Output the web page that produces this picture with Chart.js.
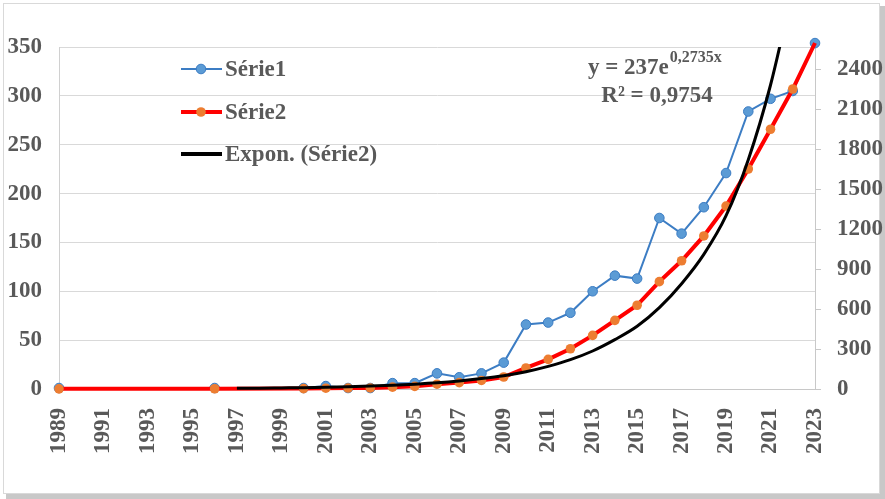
<!DOCTYPE html>
<html><head><meta charset="utf-8">
<script src="https://cdn.jsdelivr.net/npm/chart.js@4/dist/chart.umd.min.js"></script>
<style>html,body{margin:0;padding:0;background:#fff;}canvas{display:block;}</style>
</head><body>
<canvas id="c" width="885" height="499"></canvas>
<script>
// ---- data ----
const years = ['1989','1990','1991','1992','1993','1994','1995','1996','1997','1998','1999',
  '2000','2001','2002','2003','2004','2005','2006','2007','2008','2009','2010','2011',
  '2012','2013','2014','2015','2016','2017','2018','2019','2020','2021','2022','2023'];
const xTickLabels = ['1989','1991','1993','1995','1997','1999','2001','2003','2005','2007',
  '2009','2011','2013','2015','2017','2019','2021','2023'];
const serie1 = [1, null, null, null, null, null, null, 1, null, null, null,
  1, 3, 1, 1, 6, 6, 16, 12, 16, 27, 66, 68, 78, 100, 116, 113, 175, 159, 186, 221, 284, 297, 305, 354];
const serie2 = [1, null, null, null, null, null, null, 2, null, null, null,
  3, 6, 7, 8, 14, 20, 36, 48, 64, 90, 158, 222, 302, 402, 515, 628, 805, 962, 1148, 1372, 1650, 1948, 2250, 2595];
const trend = [null, null, null, null, null, null, null, null, 5, 6, 8,
  10, 13, 17, 22, 28, 36, 46, 60, 78, 100, 130, 170, 220, 285, 370, 470, 610, 790, 1010, 1300, 1720, 2280, 3000, null];
const leftTicks = [0, 50, 100, 150, 200, 250, 300, 350];
const rightTicks = [0, 300, 600, 900, 1200, 1500, 1800, 2100, 2400];
const legendLabels = ['Série1', 'Série2', 'Expon. (Série2)'];
const eqMain = 'y = 237e';
const eqExp = '0,2735x';
const eqR2 = 'R² = 0,9754';

// ---- styling ----
const FAM = '"Liberation Serif", "Times New Roman", serif';
const TXT = '#595959';
const W = 885, H = 499;
const PLOT = {left: 59, right: 815, top: 47, bottom: 389};

const frame = {
  id: 'frame',
  beforeDraw(chart) {
    const ctx = chart.ctx;
    ctx.save();
    ctx.fillStyle = '#ffffff';
    ctx.fillRect(0, 0, W, H);
    ctx.fillStyle = '#c8c8c8';
    ctx.fillRect(6, 494, W - 6, 5);
    ctx.fillRect(880, 6, 5, H - 6);
    ctx.fillStyle = '#ffffff';
    ctx.fillRect(0, 0, 880, 494);
    ctx.strokeStyle = '#d9d9d9';
    ctx.lineWidth = 1;
    ctx.strokeRect(3.5, 3.5, 876, 490);
    ctx.restore();
  },
  afterDatasetsDraw(chart) {
    const ctx = chart.ctx;
    const ds = chart.data.datasets;
    ctx.save();
    // legend
    const rows = [69, 112, 154];
    ctx.textBaseline = 'middle';
    ctx.textAlign = 'left';
    ctx.font = 'bold 23px ' + FAM;
    for (let i = 0; i < 3; i++) {
      const d = ds[i];
      const y = rows[i];
      ctx.strokeStyle = d.borderColor;
      ctx.lineWidth = i === 0 ? 2 : 4;
      ctx.beginPath(); ctx.moveTo(181, y); ctx.lineTo(222, y); ctx.stroke();
      if (i < 2) {
        ctx.beginPath(); ctx.arc(201, y, 4.8, 0, Math.PI * 2);
        ctx.fillStyle = d.pointBackgroundColor; ctx.fill();
        if (i === 0) { ctx.lineWidth = 1; ctx.strokeStyle = d.pointBorderColor; ctx.stroke(); }
      }
      ctx.fillStyle = TXT;
      ctx.fillText(legendLabels[i], 225, y + 1);
    }
    // equation
    ctx.textBaseline = 'alphabetic';
    ctx.font = 'bold 23px ' + FAM;
    const w1 = ctx.measureText(eqMain).width;
    const x0 = 588;
    ctx.fillText(eqMain, x0, 74);
    ctx.font = 'bold 16px ' + FAM;
    ctx.fillText(eqExp, x0 + w1 + 1, 62);
    ctx.font = 'bold 23px ' + FAM;
    ctx.textAlign = 'center';
    ctx.fillText(eqR2, 657, 102);
    ctx.restore();
  }
};

const tickFont = {family: FAM, size: 23, weight: 'bold'};
const lastIdx = years.length - 1;

new Chart(document.getElementById('c'), {
  type: 'line',
  data: {
    labels: years,
    datasets: [
      {
        label: legendLabels[0], data: serie1, yAxisID: 'y', order: 3,
        borderColor: '#3c7dc4', borderWidth: 2, tension: 0, spanGaps: true,
        pointRadius: 4.8, pointBackgroundColor: '#5b9bd5', pointBorderColor: '#3c7dc4', pointBorderWidth: 1,
        clip: false
      },
      {
        label: legendLabels[1], data: serie2, yAxisID: 'y1', order: 2,
        borderColor: '#ff0000', borderWidth: 4, tension: 0, spanGaps: true,
        pointRadius: (c) => (c.dataIndex === lastIdx ? 0 : 4.8),
        pointBackgroundColor: '#ed7d31', pointBorderColor: '#ed7d31', pointBorderWidth: 0,
        clip: false
      },
      {
        label: legendLabels[2], data: trend, yAxisID: 'y1', order: 1,
        borderColor: '#000000', borderWidth: 3, cubicInterpolationMode: 'monotone', spanGaps: false,
        pointRadius: 0, pointBorderWidth: 0,
        clip: {left: 0, top: 0, right: 0, bottom: 5}
      }
    ]
  },
  options: {
    responsive: false,
    devicePixelRatio: 1,
    animation: false,
    events: [],
    layout: {padding: {top: PLOT.top, left: 0, right: 0, bottom: 0}},
    plugins: {legend: {display: false}, tooltip: {enabled: false}, title: {display: false}},
    scales: {
      x: {
        type: 'category', offset: false,
        grid: {display: false, drawTicks: false},
        border: {display: true, color: '#c8c8c8', width: 1},
        ticks: {
          autoSkip: false, minRotation: 90, maxRotation: 90, padding: 19,
          color: TXT, font: tickFont,
          callback(v, i) { return xTickLabels.includes(years[i]) ? years[i] : ''; }
        },
        afterFit(s) { s.height = H - PLOT.bottom; }
      },
      y: {
        position: 'left', min: 0, max: 350,
        afterBuildTicks(s) { s.ticks = leftTicks.map(v => ({value: v})); },
        grid: {color: '#d9d9d9', lineWidth: 1, drawTicks: false},
        border: {display: true, color: '#d0d0d0', width: 1},
        ticks: {color: TXT, font: tickFont, padding: 17, callback: (v) => String(v)},
        afterFit(s) { s.width = PLOT.left; }
      },
      y1: {
        position: 'right', min: 0, max: 2565,
        afterBuildTicks(s) { s.ticks = rightTicks.map(v => ({value: v})); },
        grid: {display: true, drawOnChartArea: false, drawTicks: true, tickLength: 6, color: '#c8c8c8'},
        border: {display: true, color: '#c8c8c8', width: 1},
        ticks: {color: TXT, font: tickFont, padding: 16, callback: (v) => String(v)},
        afterFit(s) { s.width = W - PLOT.right; }
      }
    }
  },
  plugins: [frame]
});
</script>
</body></html>
